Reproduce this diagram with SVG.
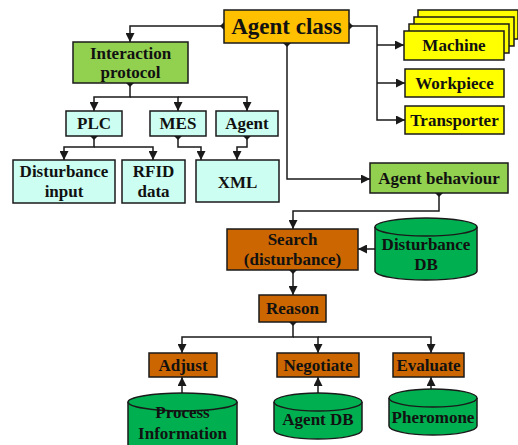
<svg xmlns="http://www.w3.org/2000/svg" width="518" height="445" viewBox="0 0 518 445">
  <style>
    .box { stroke: #1a1a1a; stroke-width: 1.5; }
    .orange { fill: #FFC000; }
    .lime { fill: #92D050; }
    .cyan { fill: #CCFFF2; }
    .yellow { fill: #FFFF00; }
    .brown { fill: #CC6600; }
    .db { fill: #00B050; stroke: #1a1a1a; stroke-width: 1.5; }
    text { font-family: "Liberation Serif", "Times New Roman", serif; font-weight: bold; font-size: 17px; fill: #111; text-anchor: middle; }
    .big { font-size: 23px; }
    .wire { fill: none; stroke: #1a1a1a; stroke-width: 1.5; }
  </style>
  <defs>
    <marker id="arrow" viewBox="0 0 10 10" refX="10" refY="5" markerWidth="9" markerHeight="9" markerUnits="userSpaceOnUse" orient="auto">
      <path d="M0,0 L10,5 L0,10 Z" fill="#1a1a1a"/>
    </marker>
    <marker id="port" viewBox="0 0 10 10" refX="5" refY="5" markerWidth="8" markerHeight="8" markerUnits="userSpaceOnUse" orient="auto">
      <path d="M5,0 L10,5 L5,10 L0,5 Z" fill="#1a1a1a"/>
    </marker>
  </defs>

  <!-- connectors -->
  <g id="connectors">
    <path class="wire" d="M224,26 H130 V42" marker-start="url(#port)" marker-end="url(#arrow)"/>
    <path class="wire" d="M130,83 V97 H94 V111" marker-start="url(#port)" marker-end="url(#arrow)"/>
    <path class="wire" d="M130,97 H178 V111" marker-end="url(#arrow)"/>
    <path class="wire" d="M178,97 H247 V111" marker-end="url(#arrow)"/>
    <path class="wire" d="M94,136 V147 H64 V160" marker-start="url(#port)" marker-end="url(#arrow)"/>
    <path class="wire" d="M94,147 H153 V160" marker-end="url(#arrow)"/>
    <path class="wire" d="M178,136 V147 H201 V160" marker-start="url(#port)" marker-end="url(#arrow)"/>
    <path class="wire" d="M247,136 V147 H237 V160" marker-start="url(#port)" marker-end="url(#arrow)"/>
    <path class="wire" d="M287,43 V179 H370" marker-start="url(#port)" marker-end="url(#arrow)"/>
    <path class="wire" d="M349,26 H377 V120 H405" marker-start="url(#port)" marker-end="url(#arrow)"/>
    <path class="wire" d="M377,45 H404" marker-end="url(#arrow)"/>
    <path class="wire" d="M377,83 H405" marker-end="url(#arrow)"/>
    <path class="wire" d="M439,193 V211 H293 V229" marker-start="url(#port)" marker-end="url(#arrow)"/>
    <path class="wire" d="M375,249 H358" marker-end="url(#arrow)"/>
    <path class="wire" d="M293,270 V295" marker-start="url(#port)" marker-end="url(#arrow)"/>
    <path class="wire" d="M293,322 V337 H182 V353" marker-start="url(#port)" marker-end="url(#arrow)"/>
    <path class="wire" d="M293,337 H318 V353" marker-end="url(#arrow)"/>
    <path class="wire" d="M318,337 H431 V353" marker-end="url(#arrow)"/>
    <path class="wire" d="M182,393 V377" marker-end="url(#arrow)"/>
    <path class="wire" d="M318,393 V377" marker-end="url(#arrow)"/>
    <path class="wire" d="M431,389 V377" marker-end="url(#arrow)"/>
  </g>

  <g id="agent-class">
    <rect class="box orange" x="224" y="10" width="125" height="33"/>
    <text class="big" x="286.5" y="34">Agent class</text>
  </g>

  <g id="interaction-protocol">
    <rect class="box lime" x="73" y="42" width="115" height="41"/>
    <text x="130.5" y="59">Interaction</text>
    <text x="130.5" y="78">protocol</text>
  </g>

  <g id="plc">
    <rect class="box cyan" x="66" y="111" width="56" height="25"/>
    <text x="94" y="129">PLC</text>
  </g>
  <g id="mes">
    <rect class="box cyan" x="150" y="111" width="56" height="25"/>
    <text x="178" y="129">MES</text>
  </g>
  <g id="agent">
    <rect class="box cyan" x="216" y="111" width="62" height="25"/>
    <text x="247" y="129">Agent</text>
  </g>

  <g id="disturbance-input">
    <rect class="box cyan" x="13" y="160" width="102" height="43"/>
    <text x="64" y="177">Disturbance</text>
    <text x="64" y="197">input</text>
  </g>
  <g id="rfid-data">
    <rect class="box cyan" x="122" y="160" width="63" height="43"/>
    <text x="153.5" y="177">RFID</text>
    <text x="153.5" y="197">data</text>
  </g>
  <g id="xml">
    <rect class="box cyan" x="196" y="160" width="83" height="42"/>
    <text x="237.5" y="188">XML</text>
  </g>

  <g id="machine">
    <rect class="box yellow" x="418" y="10" width="100" height="29"/>
    <rect class="box yellow" x="414" y="17" width="100" height="29"/>
    <rect class="box yellow" x="409" y="24" width="100" height="29"/>
    <rect class="box yellow" x="404" y="31" width="100" height="29"/>
    <text x="454" y="51">Machine</text>
  </g>
  <g id="workpiece">
    <rect class="box yellow" x="405" y="69" width="99" height="28"/>
    <text x="454.5" y="89">Workpiece</text>
  </g>
  <g id="transporter">
    <rect class="box yellow" x="405" y="106" width="99" height="28"/>
    <text x="454.5" y="126">Transporter</text>
  </g>

  <g id="agent-behaviour">
    <rect class="box lime" x="370" y="163" width="138" height="30"/>
    <text x="439" y="184">Agent behaviour</text>
  </g>

  <g id="search">
    <rect class="box brown" x="227" y="229" width="131" height="41"/>
    <text x="292.5" y="245">Search</text>
    <text x="292.5" y="265">(disturbance)</text>
  </g>

  <g id="disturbance-db">
    <path class="db" d="M375,227 V271 A51,9 0 0 0 477,271 V227"/>
    <ellipse class="db" cx="426" cy="227" rx="51" ry="9"/>
    <text x="426" y="250">Disturbance</text>
    <text x="426" y="270">DB</text>
  </g>

  <g id="reason">
    <rect class="box brown" x="259" y="295" width="67" height="27"/>
    <text x="292.5" y="314">Reason</text>
  </g>

  <g id="adjust">
    <rect class="box brown" x="149" y="353" width="68" height="24"/>
    <text x="183" y="371">Adjust</text>
  </g>
  <g id="negotiate">
    <rect class="box brown" x="277" y="353" width="82" height="24"/>
    <text x="318" y="371">Negotiate</text>
  </g>
  <g id="evaluate">
    <rect class="box brown" x="393" y="353" width="71" height="24"/>
    <text x="428.5" y="371">Evaluate</text>
  </g>

  <g id="process-information">
    <path class="db" d="M128,402 V450 H237 V402"/>
    <ellipse class="db" cx="182.5" cy="402" rx="54.5" ry="9"/>
    <text x="182.5" y="418">Process</text>
    <text x="182.5" y="439">Information</text>
  </g>
  <g id="agent-db">
    <path class="db" d="M274,402 V430 A44,9 0 0 0 362,430 V402"/>
    <ellipse class="db" cx="318" cy="402" rx="44" ry="9"/>
    <text x="318" y="425">Agent DB</text>
  </g>
  <g id="pheromone">
    <path class="db" d="M389,398 V426 A44,9 0 0 0 477,426 V398"/>
    <ellipse class="db" cx="433" cy="398" rx="44" ry="9"/>
    <text x="433" y="423">Pheromone</text>
  </g>
</svg>
